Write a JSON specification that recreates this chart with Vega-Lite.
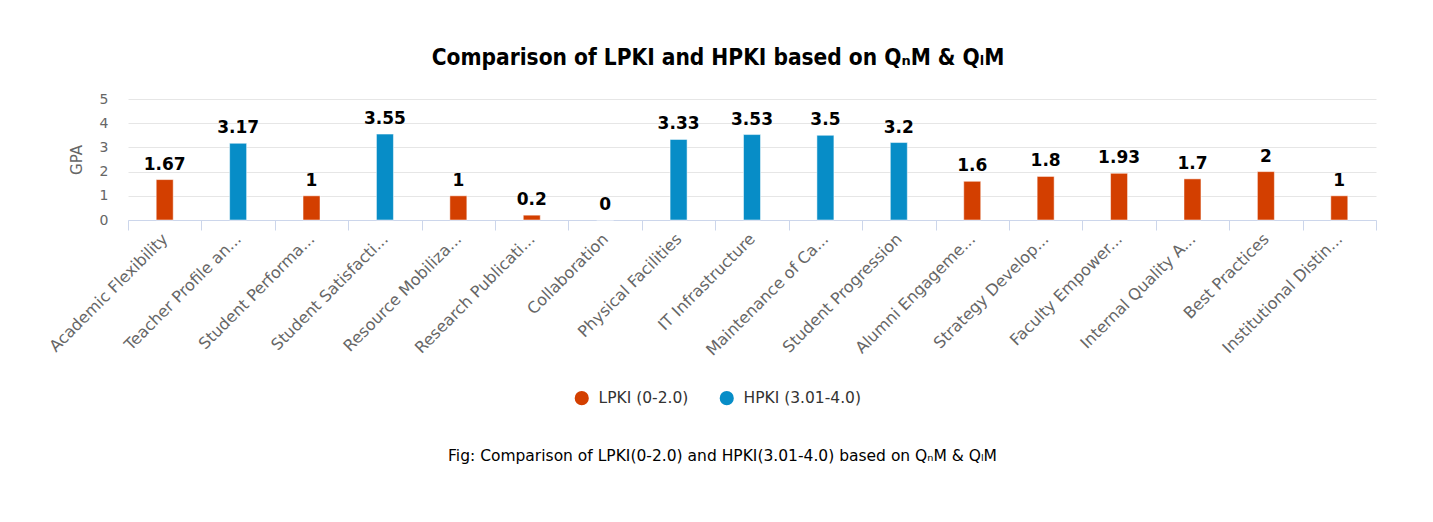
{
  "$schema": "https://vega.github.io/schema/vega-lite/v6.json",
  "autosize": {"type": "none"},
  "width": 1248,
  "height": 121,
  "padding": {"left": 128, "top": 99, "right": 57, "bottom": 302},
  "background": "white",
  "title": {
    "text": "Comparison of LPKI and HPKI based on QₙM & QₗM",
    "font": "DejaVu Sans Condensed",
    "fontSize": 22.5,
    "fontWeight": "bold",
    "color": "#000000",
    "anchor": "middle",
    "dx": -34,
    "offset": 23
  },
  "data": {
    "values": [
      {"parameter": "Academic Flexibility", "gpa": 1.67, "group": "LPKI (0-2.0)"},
      {"parameter": "Teacher Profile an...", "gpa": 3.17, "group": "HPKI (3.01-4.0)"},
      {"parameter": "Student Performa...", "gpa": 1, "group": "LPKI (0-2.0)"},
      {"parameter": "Student Satisfacti...", "gpa": 3.55, "group": "HPKI (3.01-4.0)"},
      {"parameter": "Resource Mobiliza...", "gpa": 1, "group": "LPKI (0-2.0)"},
      {"parameter": "Research Publicati...", "gpa": 0.2, "group": "LPKI (0-2.0)"},
      {"parameter": "Collaboration", "gpa": 0, "group": "LPKI (0-2.0)"},
      {"parameter": "Physical Facilities", "gpa": 3.33, "group": "HPKI (3.01-4.0)"},
      {"parameter": "IT Infrastructure", "gpa": 3.53, "group": "HPKI (3.01-4.0)"},
      {"parameter": "Maintenance of Ca...", "gpa": 3.5, "group": "HPKI (3.01-4.0)"},
      {"parameter": "Student Progression", "gpa": 3.2, "group": "HPKI (3.01-4.0)"},
      {"parameter": "Alumni Engageme...", "gpa": 1.6, "group": "LPKI (0-2.0)"},
      {"parameter": "Strategy Develop...", "gpa": 1.8, "group": "LPKI (0-2.0)"},
      {"parameter": "Faculty Empower...", "gpa": 1.93, "group": "LPKI (0-2.0)"},
      {"parameter": "Internal Quality A...", "gpa": 1.7, "group": "LPKI (0-2.0)"},
      {"parameter": "Best Practices", "gpa": 2, "group": "LPKI (0-2.0)"},
      {"parameter": "Institutional Distin...", "gpa": 1, "group": "LPKI (0-2.0)"}
    ]
  },
  "encoding": {
    "x": {
      "field": "parameter",
      "type": "nominal",
      "sort": null,
      "scale": {"paddingInner": 0, "paddingOuter": 0},
      "axis": {
        "title": "Fig: Comparison of LPKI(0-2.0) and HPKI(3.01-4.0) based on QₙM & QₗM",
        "titleFont": "DejaVu Sans",
        "titleFontSize": 15.5,
        "titleFontWeight": "normal",
        "titleColor": "#000000",
        "titleX": 594,
        "titleY": 235,
        "titleAlign": "center",
        "titleBaseline": "middle",
        "labelAngle": -45,
        "labelAlign": "right",
        "labelBaseline": "middle",
        "labelFont": "DejaVu Sans",
        "labelFontSize": 16,
        "labelColor": "#666666",
        "labelPadding": 6,
        "labelLimit": 300,
        "domainColor": "#ccd6eb",
        "tickColor": "#ccd6eb",
        "tickSize": 10,
        "tickBand": "extent",
        "grid": false
      }
    },
    "y": {
      "field": "gpa",
      "type": "quantitative",
      "scale": {"domain": [0, 5], "nice": false},
      "axis": {
        "title": "GPA",
        "titleFont": "DejaVu Sans",
        "titleFontSize": 15,
        "titleFontWeight": "normal",
        "titleColor": "#666666",
        "titlePadding": 15,
        "values": [0, 1, 2, 3, 4, 5],
        "labelFont": "DejaVu Sans",
        "labelFontSize": 14,
        "labelColor": "#666666",
        "labelPadding": 20,
        "domain": false,
        "ticks": false,
        "gridColor": "#e6e6e6",
        "gridWidth": 1
      }
    }
  },
  "layer": [
    {
      "mark": {"type": "bar", "size": 17, "stroke": "white", "strokeWidth": 1, "strokeOpacity": 0.5},
      "encoding": {
        "color": {
          "field": "group",
          "type": "nominal",
          "scale": {"domain": ["LPKI (0-2.0)", "HPKI (3.01-4.0)"], "range": ["#d33f00", "#078dc7"]},
          "legend": {
            "title": null,
            "orient": "none",
            "direction": "horizontal",
            "legendX": 446,
            "legendY": 291,
            "symbolType": "circle",
            "symbolSize": 200,
            "symbolStrokeWidth": 0,
            "labelFont": "DejaVu Sans",
            "labelFontSize": 15.5,
            "labelColor": "#333333",
            "columnPadding": 30,
            "labelOffset": 9
          }
        }
      }
    },
    {
      "mark": {"type": "text", "dy": -10, "font": "DejaVu Sans", "fontSize": 17, "fontWeight": "bold", "color": "#000000", "baseline": "alphabetic"},
      "encoding": {"text": {"field": "gpa", "type": "quantitative"}}
    }
  ],
  "config": {"view": {"stroke": null}}
}
